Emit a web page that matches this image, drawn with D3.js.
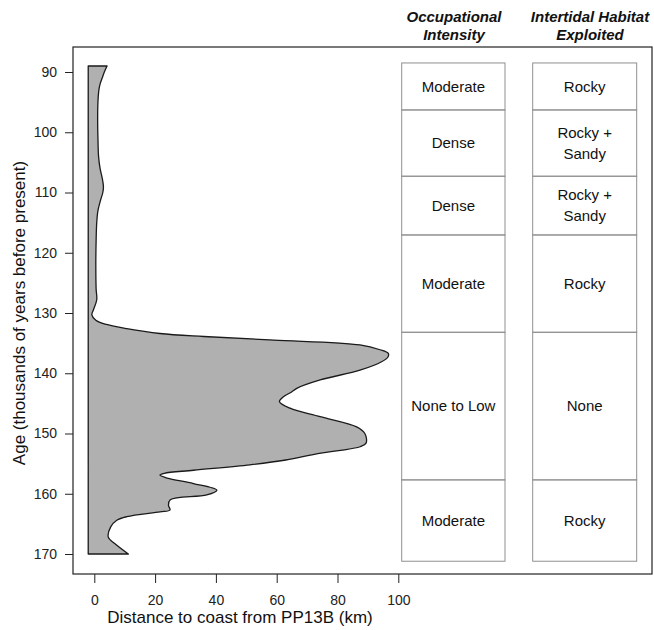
<!DOCTYPE html>
<html>
<head>
<meta charset="utf-8">
<script src="https://cdn.jsdelivr.net/npm/d3@7"></script>
<style>
  body { margin: 0; background: #fff; }
  svg { font-family: "Liberation Sans", Arial, sans-serif; }
</style>
</head>
<body>
<svg id="chart" width="654" height="630"></svg>
<script>
// distance to coast (km) against age (ka)
const ages = [89, 90, 91, 92, 93, 95, 98, 101, 104, 106, 107.6, 109, 110, 111.2, 113, 115, 118, 122, 126, 127.8,
  129.5, 130.3, 131.2, 131.9, 132.6, 133.4, 133.9, 134.5, 135.3, 136.1, 136.7, 137.3, 138.1, 139.5, 141.1,
  142.5, 143.1, 143.9, 144.7, 145.8, 147.2, 148.9, 150, 151.6, 152.2, 152.8, 153.3, 154.4, 155.2, 156.1,
  156.6, 156.9, 157.4, 158.3, 159.4, 160.2, 161, 161.9, 162.7, 163, 163.8, 164.4, 165.5, 167.2, 168.3, 170];
const distKm = [4.2, 3.3, 2.6, 1.9, 1.5, 1.2, 1.1, 1.2, 1.4, 1.9, 2.6, 3.0, 2.8, 2.1, 1.2, 0.8, 0.6, 0.5, 0.6, 0.8,
  -0.3, -0.8, 0.5, 4, 10.7, 21.6, 36, 59, 87.4, 94, 96.7, 96.6, 94.5, 87.4, 74.3,
  66.6, 64.9, 62.2, 60.9, 64.4, 74.3, 86.3, 89, 89.4, 87.4, 81, 74, 63, 51.2, 32.6,
  23, 21.6, 24, 32.6, 40.3, 37, 25, 24.4, 24.9, 21.6, 10.7, 7.4, 5.4, 4.6, 6.8, 11.2];
const baseKm = -2;

// table rows (age boundaries, ka)
const rowBreaks = [88.5, 96.3, 107.3, 117.05, 133.2, 157.7, 171.2];
const intensity = ["Moderate", "Dense", "Dense", "Moderate", "None to Low", "Moderate"];
const habitat = [["Rocky"], ["Rocky +", "Sandy"], ["Rocky +", "Sandy"], ["Rocky"], ["None"], ["Rocky"]];
const headers = [["Occupational", "Intensity"], ["Intertidal Habitat", "Exploited"]];

const xTicks = [0, 20, 40, 60, 80, 100];
const yTicks = [90, 100, 110, 120, 130, 140, 150, 160, 170];

const svg = d3.select("#chart");
const frame = {left: 73, top: 47, right: 652, bottom: 574};

const x = d3.scaleLinear().domain([0, 100]).range([94.3, 398.3]);
const y = d3.scaleLinear().domain([90, 170]).range([72, 554]);

const data = ages.map((a, i) => ({age: a, km: distKm[i]}));

const area = d3.area()
  .y(d => y(d.age))
  .x0(x(baseKm))
  .x1(d => x(d.km))
  .curve(d3.curveCatmullRom);

svg.append("path")
  .datum(data)
  .attr("d", area)
  .attr("fill", "#b0b0b0")
  .attr("stroke", "#1a1a1a")
  .attr("stroke-width", 1.3)
  .attr("stroke-linejoin", "round");

// table columns
const cols = [
  {x0: 401.7, x1: 505, labels: intensity.map(s => [s]), hx: 454},
  {x0: 532.7, x1: 636.7, labels: habitat, hx: 590}
];

cols.forEach((c, ci) => {
  const g = svg.append("g");
  for (let i = 0; i < rowBreaks.length - 1; i++) {
    const yt = y(rowBreaks[i]), yb = y(rowBreaks[i + 1]);
    g.append("rect")
      .attr("x", c.x0).attr("y", yt)
      .attr("width", c.x1 - c.x0).attr("height", yb - yt)
      .attr("fill", "none")
      .attr("stroke", "#8f8f8f")
      .attr("stroke-width", 1);
    const lines = c.labels[i];
    const cy = (yt + yb) / 2;
    lines.forEach((t, j) => {
      g.append("text")
        .attr("x", (c.x0 + c.x1) / 2)
        .attr("y", cy + (j - (lines.length - 1) / 2) * 21)
        .attr("dy", "0.35em")
        .attr("text-anchor", "middle")
        .attr("font-size", 15)
        .attr("fill", "#111")
        .text(t);
    });
  }
  headers[ci].forEach((t, j) => {
    svg.append("text")
      .attr("x", c.hx)
      .attr("y", 22 + j * 18)
      .attr("text-anchor", "middle")
      .attr("font-size", 15)
      .attr("font-weight", "bold")
      .attr("font-style", "italic")
      .attr("fill", "#111")
      .text(t);
  });
});

// frame
svg.append("rect")
  .attr("x", frame.left).attr("y", frame.top)
  .attr("width", frame.right - frame.left)
  .attr("height", frame.bottom - frame.top)
  .attr("fill", "none")
  .attr("stroke", "#222")
  .attr("stroke-width", 1.2);

// axes
const yAxis = svg.append("g")
  .attr("transform", "translate(" + frame.left + ",0)")
  .call(d3.axisLeft(y).tickValues(yTicks).tickSize(8).tickPadding(8));
const xAxis = svg.append("g")
  .attr("transform", "translate(0," + frame.bottom + ")")
  .call(d3.axisBottom(x).tickValues(xTicks).tickSize(9).tickPadding(12));

[yAxis, xAxis].forEach(a => {
  a.select(".domain").remove();
  a.selectAll("line").attr("stroke", "#222");
  a.selectAll("text")
    .attr("font-size", 14)
    .attr("font-family", "Liberation Sans, Arial, sans-serif")
    .attr("fill", "#222");
});

svg.append("text")
  .attr("transform", "translate(25,313) rotate(-90)")
  .attr("text-anchor", "middle")
  .attr("font-size", 17)
  .attr("fill", "#111")
  .text("Age (thousands of years before present)");

svg.append("text")
  .attr("x", 240)
  .attr("y", 623)
  .attr("text-anchor", "middle")
  .attr("font-size", 17)
  .attr("fill", "#111")
  .text("Distance to coast from PP13B (km)");
</script>
</body>
</html>
